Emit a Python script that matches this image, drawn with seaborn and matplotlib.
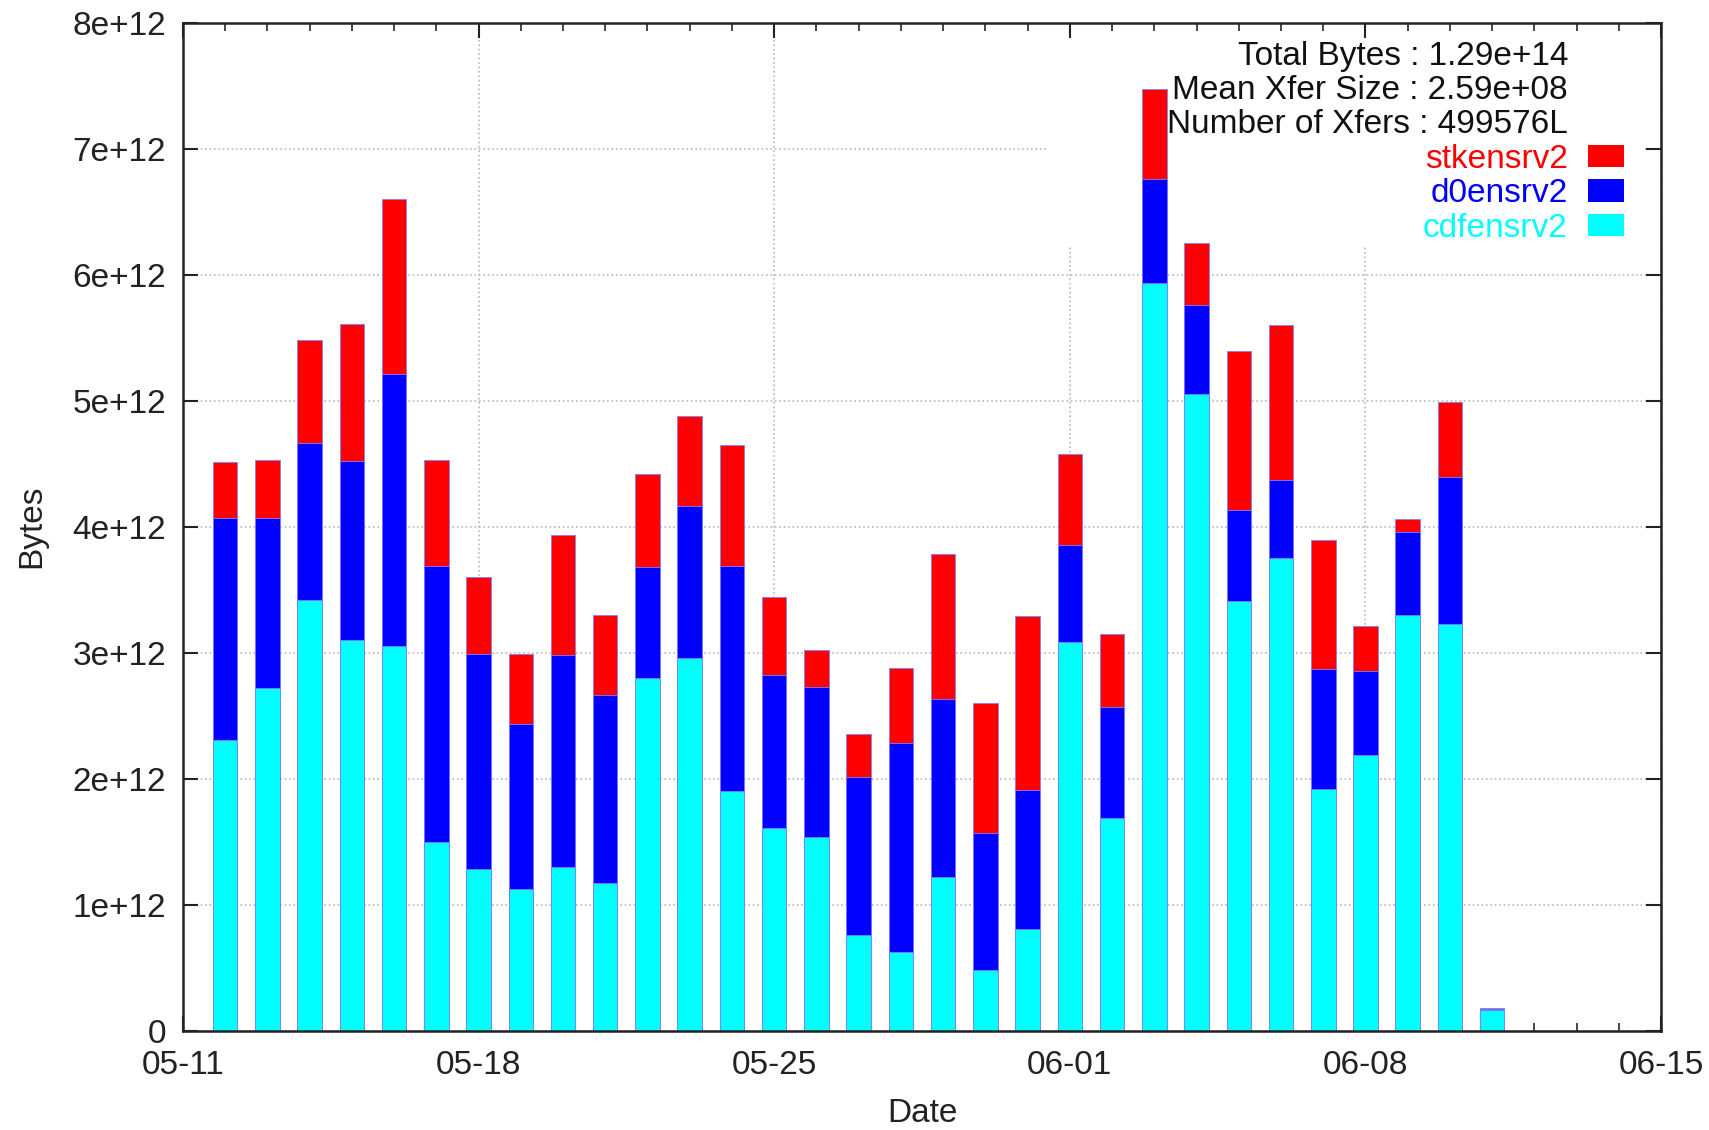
import pandas as pd
import numpy as np
import seaborn as sns
import matplotlib.pyplot as plt
from matplotlib.patches import Rectangle, Patch

# daily transfer volume per server, in units of 1e12 bytes
dates = ['05-12', '05-13', '05-14', '05-15', '05-16', '05-17', '05-18', '05-19',
         '05-20', '05-21', '05-22', '05-23', '05-24', '05-25', '05-26', '05-27',
         '05-28', '05-29', '05-30', '05-31', '06-01', '06-02', '06-03', '06-04',
         '06-05', '06-06', '06-07', '06-08', '06-09', '06-10', '06-11']
cdfensrv2 = [2.31, 2.72, 3.42, 3.10, 3.05, 1.50, 1.28, 1.12, 1.30, 1.17, 2.80,
             2.96, 1.90, 1.61, 1.54, 0.76, 0.62, 1.22, 0.48, 0.81, 3.08, 1.69,
             5.93, 5.05, 3.41, 3.75, 1.92, 2.19, 3.30, 3.23, 0.16]
d0ensrv2 = [1.76, 1.35, 1.24, 1.42, 2.16, 2.19, 1.71, 1.31, 1.68, 1.49, 0.88,
            1.20, 1.79, 1.21, 1.19, 1.25, 1.66, 1.41, 1.09, 1.10, 0.77, 0.88,
            0.83, 0.71, 0.72, 0.62, 0.95, 0.66, 0.66, 1.16, 0.01]
stkensrv2 = [0.44, 0.46, 0.82, 1.09, 1.39, 0.84, 0.61, 0.56, 0.95, 0.64, 0.74,
             0.72, 0.96, 0.62, 0.29, 0.34, 0.60, 1.15, 1.03, 1.38, 0.73, 0.58,
             0.71, 0.49, 1.26, 1.23, 1.02, 0.36, 0.10, 0.60, 0.01]

xtick_labels = ['05-11', '05-18', '05-25', '06-01', '06-08', '06-15']
ytick_labels = ['0', '1e+12', '2e+12', '3e+12', '4e+12', '5e+12', '6e+12', '7e+12', '8e+12']
stats = ['Total Bytes : 1.29e+14', 'Mean Xfer Size : 2.59e+08', 'Number of Xfers : 499576L']

start = pd.Timestamp('2000-05-11')
def day_num(s):
    return (pd.Timestamp('2000-' + s) - start).days

df = pd.DataFrame({'day': [day_num(d) for d in dates],
                   'cdf': np.array(cdfensrv2) * 1e12,
                   'd0': np.array(d0ensrv2) * 1e12,
                   'stk': np.array(stkensrv2) * 1e12})
df['lvl_cdf'] = df['cdf']
df['lvl_d0'] = df['lvl_cdf'] + df['d0']
df['lvl_stk'] = df['lvl_d0'] + df['stk']

sns.set_style('ticks')
plt.rcParams['font.family'] = ['Liberation Sans', 'DejaVu Sans']
FS = 24

fig = plt.figure(figsize=(17.09, 11.30), dpi=100)
ax = fig.add_axes([0.107, 0.088, 0.865, 0.892])

series = [('lvl_stk', '#ff0000', 'stkensrv2'),
          ('lvl_d0', '#0000ff', 'd0ensrv2'),
          ('lvl_cdf', '#00ffff', 'cdfensrv2')]
for col, c, name in series:
    sns.barplot(data=df, x='day', y=col, color=c, saturation=1, width=0.58,
                native_scale=True, errorbar=None, ax=ax,
                edgecolor='#7f7fff', linewidth=0.6, zorder=2)

ax.set_xlim(0, 35)
ax.set_ylim(0, 8e12)
ax.set_xticks([day_num(s) for s in xtick_labels])
ax.set_xticklabels(xtick_labels)
ax.set_xticks(range(0, 36), minor=True)
ax.set_yticks(np.arange(len(ytick_labels)) * 1e12)
ax.set_yticklabels(ytick_labels)
ax.tick_params(axis='both', which='major', direction='in', length=11, width=1.5,
               top=True, right=True, labelsize=FS, colors='#222222')
ax.tick_params(axis='x', which='major', pad=14)
ax.tick_params(axis='y', which='major', pad=12)
ax.tick_params(axis='x', which='minor', direction='in', length=6, width=1.2,
               top=True, bottom=True)
ax.tick_params(axis='y', which='minor', left=False, right=False)
for sp in ax.spines.values():
    sp.set_linewidth(1.8)
    sp.set_color('#222222')

ax.set_axisbelow(True)
ax.grid(True, which='major', color='#b8b8b8', linestyle=':', linewidth=1.2)
# key area blanks the grid, as in gnuplot
ax.add_patch(Rectangle((0.584, 0.779), 0.405, 0.206, transform=ax.transAxes,
                       facecolor='white', edgecolor='none', zorder=0.6))

ax.set_xlabel('Date', fontsize=FS, labelpad=12, color='#222222')
ax.set_ylabel('Bytes', fontsize=FS, labelpad=18, color='#222222')

for i, s in enumerate(stats):
    ax.text(0.937, 0.966 - i * 0.0335, s, transform=ax.transAxes, ha='right',
            va='center', fontsize=FS, color='#111111')

handles = [Patch(facecolor=c, edgecolor='none') for _, c, _ in series]
names = [n for _, _, n in series]
leg = ax.legend(handles, names, loc='upper right', bbox_to_anchor=(0.975, 0.880),
                frameon=False, markerfirst=False, fontsize=FS, handlelength=1.1,
                handleheight=0.65, handletextpad=0.6, labelspacing=0.11,
                borderaxespad=0, borderpad=0)
for t, (_, c, _) in zip(leg.get_texts(), series):
    t.set_color(c)

fig.savefig('out.png', dpi=100)
